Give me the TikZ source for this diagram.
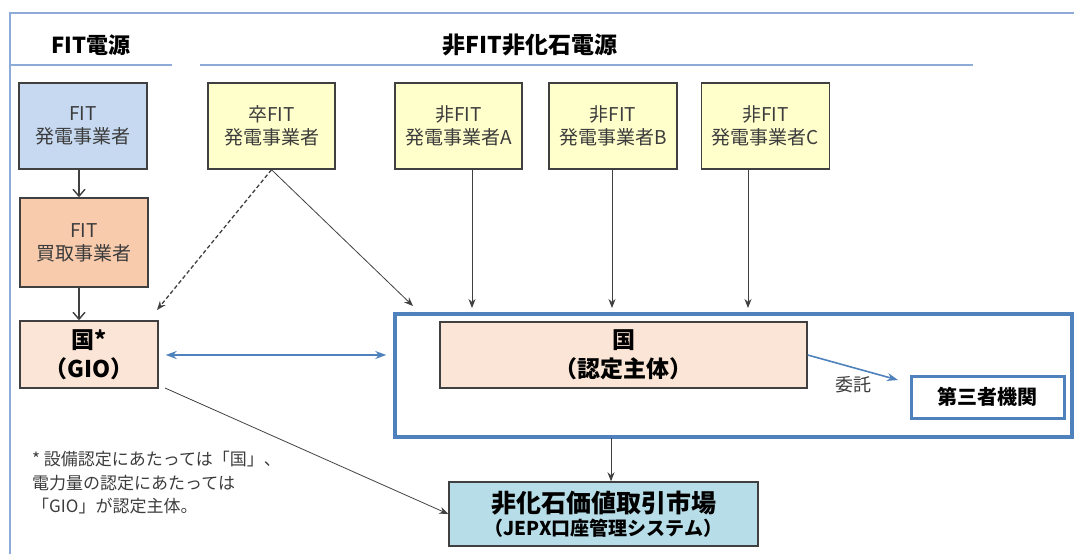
\documentclass[tikz,border=0pt]{standalone}
\usepackage{fontspec}
\setmainfont{Noto Sans CJK JP}
\usetikzlibrary{arrows.meta}
\definecolor{secline}{RGB}{142,170,215}
\definecolor{bluefr}{RGB}{79,129,189}
\definecolor{fitblue}{RGB}{198,217,240}
\definecolor{yel}{RGB}{255,255,204}
\definecolor{peach}{RGB}{248,203,173}
\definecolor{lpeach}{RGB}{251,229,214}
\definecolor{teal}{RGB}{183,222,232}
\definecolor{txtgray}{RGB}{60,60,60}
\definecolor{bd}{RGB}{64,64,64}
\tikzset{
  box/.style={draw=bd, line width=1.4pt, minimum width=128pt, minimum height=86pt, align=center, inner sep=0pt, text=txtgray, font=\fontsize{19}{23}\selectfont},
  boldbox/.style={draw=bd, line width=1.4pt, align=center, inner sep=0pt, font=\bfseries\fontsize{23}{29}\selectfont},
  arr/.style={draw=bd, line width=0.8pt, -{Stealth[length=9pt,width=7pt]}},
  openarr/.style={draw=bd, line width=1.4pt, -{Straight Barb[length=7pt,width=12pt]}},
  barr/.style={draw=bluefr, line width=1.6pt},
  hdr/.style={font=\bfseries\fontsize{22}{26}\selectfont, inner sep=0pt}
}
\begin{document}
\begin{tikzpicture}[x=1pt,y=-1pt]
\useasboundingbox (0,0) rectangle (1074,554);
% outer frame (top and left)
\draw[secline, line width=1.5pt] (1074,13) -- (10,13) -- (10,554);
% headers
\node[hdr] (h1) at (91,45) {FIT電源};
\node[hdr, font=\bfseries\fontsize{23}{26}\selectfont] (h2) at (530,45) {非FIT非化石電源};
\draw[secline, line width=2pt] (10,65) -- (172,65);
\draw[secline, line width=2pt] (200,65) -- (973,65);
% top row
\node[box, fill=fitblue] (fit) at (83,126) {FIT\\発電事業者};
\node[box, fill=yel, minimum width=127pt] (sotsu) at (271.5,126) {卒FIT\\発電事業者};
\node[box, fill=yel, minimum width=127pt] (a) at (458.5,126) {非FIT\\発電事業者A};
\node[box, fill=yel] (b) at (613,126) {非FIT\\発電事業者B};
\node[box, fill=yel] (c) at (765.5,126) {非FIT\\発電事業者C};
% second
\node[box, fill=peach, minimum height=89pt] (kaitori) at (84,242.5) {FIT\\買取事業者};
% GIO
\node[boldbox, fill=lpeach, minimum width=138pt, minimum height=67pt] (gio) at (89,354.5) {国*\\（GIO）};
% big frame
\node[draw=bluefr, line width=3.5pt, minimum width=677pt, minimum height=123pt, inner sep=0pt] (frame) at (733.5,375.5) {};
\node[boldbox, fill=lpeach, minimum width=367pt, minimum height=66pt] (kuni) at (623.5,355) {国\\（認定主体）};
\node[draw=bluefr, line width=3pt, fill=white, minimum width=153pt, minimum height=42pt, inner sep=0pt, font=\bfseries\fontsize{20}{24}\selectfont] (third) at (987.5,397) {第三者機関};
% market
\node[draw=bd, line width=1.4pt, fill=teal, minimum width=309pt, minimum height=64pt, inner sep=0pt, align=center] (market) at (603.5,514)
  {{\bfseries\fontsize{25}{29}\selectfont 非化石価値取引市場}\\[3pt]{\bfseries\fontsize{19}{24}\selectfont （JEPX口座管理システム）}};
% footnote
\node[anchor=north west, align=left, text=txtgray, inner sep=0pt, font=\fontsize{17}{23.5}\selectfont] (note) at (32,451)
  {* 設備認定にあたっては「国」、\\電力量の認定にあたっては\\「GIO」が認定主体。};
% coordinates
\coordinate (sotsuTipG) at (157,310);
\coordinate (sotsuTipF) at (413,306);
\coordinate (aTop) at (472,169);
\coordinate (aTip) at (472,308);
\coordinate (bTip) at (612,308);
\coordinate (cTip) at (748,308);
\coordinate (iTip) at (898,380);
\coordinate (fBot) at (611,438);
\coordinate (gioStart) at (165,388);
% arrows
\draw[openarr] (fit.south -| 79,0) -- (kaitori.north -| 79,0);
\draw[openarr] (kaitori.south -| 79,0) -- (gio.north -| 79,0);
\draw[arr, dashed, dash pattern=on 4pt off 2.5pt, line width=1.3pt] (sotsu.south) -- (sotsuTipG);
\draw[arr] (sotsu.south) -- (sotsuTipF);
\draw[arr] (aTop) -- (aTip);
\draw[arr] (b.south -| bTip) -- (bTip);
\draw[arr] (c.south -| cTip) -- (cTip);
\draw[barr, {Stealth[length=11pt,width=8pt]}-{Stealth[length=11pt,width=8pt]}, shorten <=7pt, shorten >=7pt] (gio.east |- kuni.east) -- (frame.west |- kuni.east);
\draw[barr, -{Stealth[length=11pt,width=8pt]}] (kuni.east) -- (iTip);
\node[text=txtgray, font=\fontsize{18}{22}\selectfont, inner sep=0pt] (itaku) at (853,385) {委託};
\draw[arr] (fBot) -- (fBot |- market.north);
\draw[arr] (gioStart) -- (market.west);
\end{tikzpicture}
\end{document}
